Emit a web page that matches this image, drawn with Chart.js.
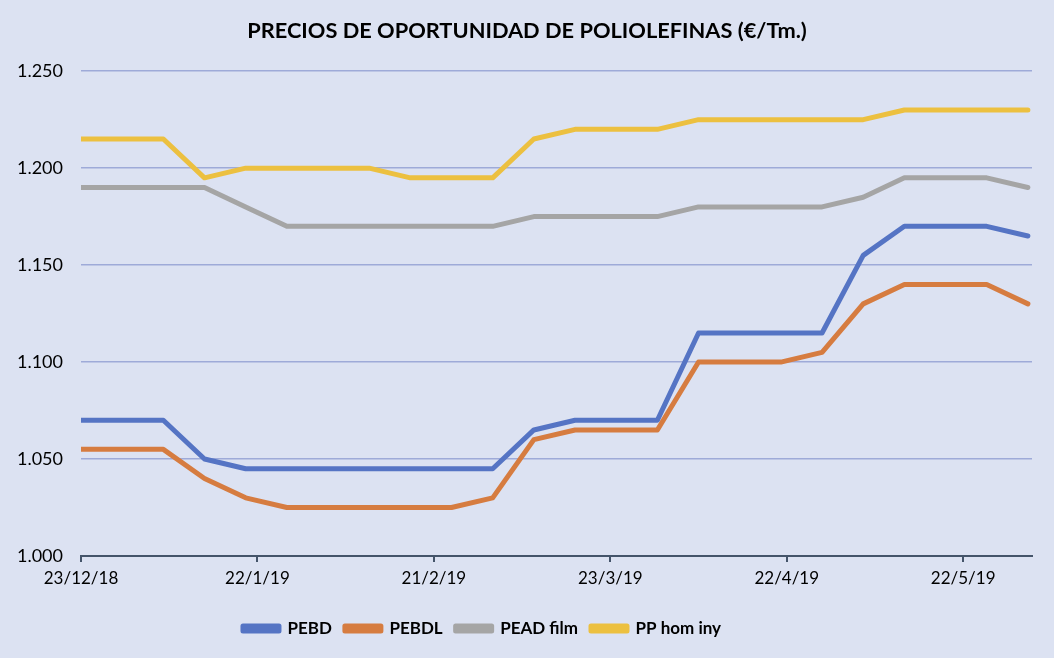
<!DOCTYPE html>
<html>
<head>
<meta charset="utf-8">
<script src="https://cdn.jsdelivr.net/npm/chart.js@4"></script>
<style>
  html, body { margin: 0; padding: 0; background: #dce2f2; }
  #wrap { width: 1054px; height: 658px; }
</style>
</head>
<body>
<div id="wrap"><canvas id="myChart"></canvas></div>
<script>
// fechas semanales (d/m/aa)
const fechas = ['23/12/18','30/12/18','6/1/19','13/1/19','20/1/19','27/1/19','3/2/19','10/2/19',
  '17/2/19','24/2/19','3/3/19','10/3/19','17/3/19','24/3/19','31/3/19','7/4/19',
  '14/4/19','21/4/19','28/4/19','5/5/19','12/5/19','19/5/19','26/5/19','2/6/19'];

const pebd = [1070,1070,1070,1050,1045,1045,1045,1045,1045,1045,1045,1065,
  1070,1070,1070,1115,1115,1115,1115,1155,1170,1170,1170,1165];
const pebdl = [1055,1055,1055,1040,1030,1025,1025,1025,1025,1025,1030,1060,
  1065,1065,1065,1100,1100,1100,1105,1130,1140,1140,1140,1130];
const peadFilm = [1190,1190,1190,1190,1180,1170,1170,1170,1170,1170,1170,1175,
  1175,1175,1175,1180,1180,1180,1180,1185,1195,1195,1195,1190];
const ppHomIny = [1215,1215,1215,1195,1200,1200,1200,1200,1195,1195,1195,1215,
  1220,1220,1220,1225,1225,1225,1225,1225,1230,1230,1230,1230];

const etiquetasX = ['23/12/18','22/1/19','21/2/19','23/3/19','22/4/19','22/5/19'];

function dia(s) {
  const p = s.split('/');
  return Date.UTC(2000 + +p[2], +p[1] - 1, +p[0]) / 86400000;
}
const dia0 = dia(fechas[0]);
const xs = fechas.map(f => dia(f) - dia0);
const ticksX = etiquetasX.map(f => dia(f) - dia0);

function serie(nombre, valores, color) {
  return {
    label: nombre,
    data: valores.map((v, i) => ({x: xs[i], y: v})),
    borderColor: color,
    backgroundColor: color,
    borderWidth: 5,
    pointRadius: 0,
    tension: 0,
    borderCapStyle: 'round',
    borderJoinStyle: 'round'
  };
}

// título centrado en todo el lienzo, leyenda algo desplazada a la izquierda como en el original
const ajustarCajas = {
  id: 'ajustarCajas',
  afterLayout(chart) {
    chart.titleBlock.left += 11;
    chart.titleBlock.right += 11;
    chart.legend.left -= 34;
    chart.legend.right -= 34;
  }
};

const fuente = 'Lato, Calibri, sans-serif';
const ctx = document.getElementById('myChart');

new Chart(ctx, {
  type: 'line',
  data: {
    datasets: [
      serie('PEBD', pebd, '#5574c4'),
      serie('PEBDL', pebdl, '#d67c40'),
      serie('PEAD film', peadFilm, '#a5a5a5'),
      serie('PP hom iny', ppHomIny, '#ecc040')
    ]
  },
  plugins: [ajustarCajas],
  options: {
    responsive: true,
    maintainAspectRatio: false,
    animation: false,
    layout: { padding: { left: 0, right: 22, top: 0, bottom: 11 } },
    plugins: {
      title: {
        display: true,
        text: 'PRECIOS DE OPORTUNIDAD DE POLIOLEFINAS (€/Tm.)',
        color: '#000',
        font: { family: fuente, size: 21.8, weight: 'bold' },
        padding: { top: 18, bottom: 27 }
      },
      legend: {
        position: 'bottom',
        labels: {
          color: '#000',
          font: { family: fuente, size: 17, weight: 'bold' },
          boxWidth: 36,
          boxHeight: 5,
          padding: 13
        }
      },
      tooltip: { enabled: false }
    },
    scales: {
      x: {
        type: 'linear',
        min: 0,
        max: 161.7,
        afterBuildTicks: s => { s.ticks = ticksX.map(v => ({value: v})); },
        afterFit: s => { s.height = 51; },
        ticks: {
          color: '#000',
          font: { family: fuente, size: 17 },
          padding: 6,
          maxRotation: 0,
          callback: (v) => etiquetasX[ticksX.indexOf(v)]
        },
        grid: { drawOnChartArea: false, drawTicks: true, tickLength: 6, color: '#44546a', lineWidth: 2 },
        border: { display: true, color: '#44546a', width: 2 }
      },
      y: {
        min: 1000,
        max: 1250,
        afterFit: s => { s.width = 81; },
        ticks: {
          stepSize: 50,
          color: '#000',
          font: { family: fuente, size: 18 },
          padding: 18,
          callback: v => (v / 1000).toFixed(3)
        },
        grid: { color: '#9eaad8', lineWidth: 1.5, drawTicks: false },
        border: { display: false }
      }
    }
  }
});
</script>
</body>
</html>
